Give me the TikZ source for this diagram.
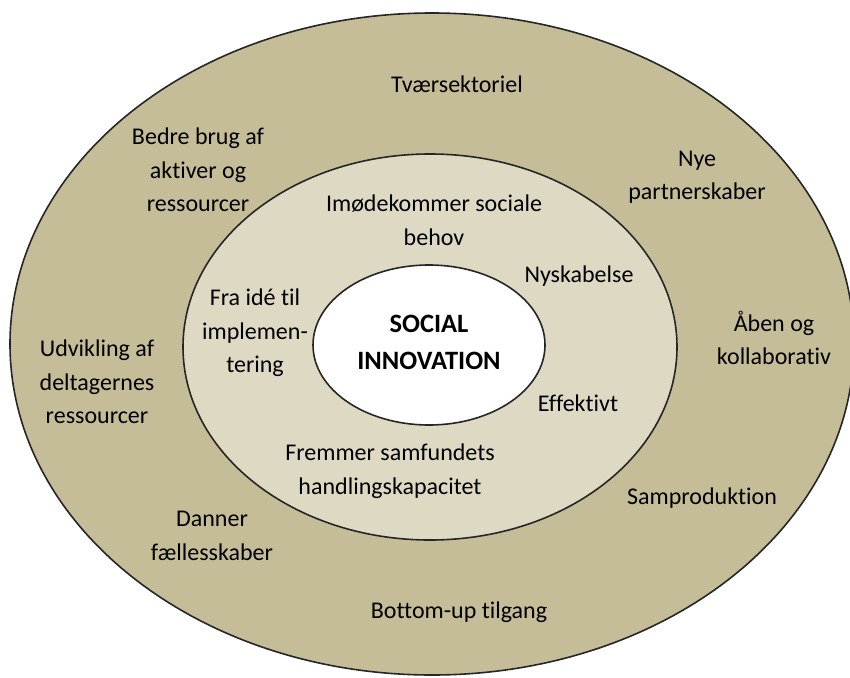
\documentclass[tikz,border=0pt]{standalone}
\usepackage{fontspec}
\setmainfont{Carlito}[Ligatures=NoCommon]
\usetikzlibrary{shapes.geometric}
\definecolor{RingOut}{RGB}{196,189,151}
\definecolor{RingMid}{RGB}{221,217,195}
\definecolor{EdgeDk}{RGB}{38,38,38}

\begin{document}
\begin{tikzpicture}[x=1pt, y=-1pt,
  ring/.style={draw=EdgeDk, line width=1.6pt, fill=#1},
  txt/.style={align=center, inner sep=0pt, text=black,
              font=\fontsize{24}{33.5}\selectfont}
]
\useasboundingbox (0,0) rectangle (850,677);
\draw[ring=RingOut] (432,344) ellipse [x radius=422, y radius=331];
\draw[ring=RingMid] (430,347) ellipse [x radius=247, y radius=193];
\draw[ring=white]   (429,345) ellipse [x radius=116, y radius=80];

\node[txt, font=\fontsize{26.5}{37}\selectfont\bfseries] (core) at (429,342) {SOCIAL\\INNOVATION};

\node[txt] (behov)   at (434,220) {Imødekommer sociale\\behov};
\node[txt] (nyskab)  at (579,276) {Nyskabelse};
\node[txt] (ide)     at (255,333) {Fra idé til\\implemen-\\tering};
\node[txt] (effekt)  at (578,403) {Effektivt};
\node[txt] (fremmer) at (390,471) {Fremmer samfundets\\handlingskapacitet};

\node[txt] (tvaer)   at (457,84)  {Tværsektoriel};
\node[txt] (bedre)   at (198,170) {Bedre brug af\\aktiver og\\ressourcer};
\node[txt] (nye)     at (697,177) {Nye\\partnerskaber};
\node[txt] (aaben)   at (774,338) {Åben og\\kollaborativ};
\node[txt] (udvik)   at (97,382)  {Udvikling af\\deltagernes\\ressourcer};
\node[txt] (sampro)  at (702,498) {Samproduktion};
\node[txt] (danner)  at (212,536) {Danner\\fællesskaber};
\node[txt] (bottom)  at (459,612) {Bottom-up tilgang};
\end{tikzpicture}
\end{document}
